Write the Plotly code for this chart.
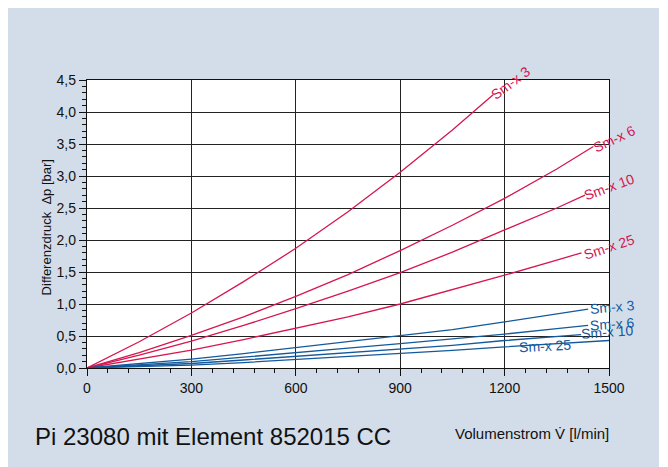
import plotly.graph_objects as go

# ---- data ----
flow_red_sm3 = [0, 150, 300, 450, 600, 750, 900, 1050, 1167]
dp_red_sm3 = [0, 0.41, 0.86, 1.35, 1.87, 2.44, 3.06, 3.72, 4.27]

flow_red_sm6 = [0, 150, 300, 450, 600, 750, 900, 1050, 1200, 1350, 1455]
dp_red_sm6 = [0, 0.242, 0.51, 0.80, 1.12, 1.46, 1.835, 2.23, 2.65, 3.11, 3.46]

flow_red_sm10 = [0, 150, 300, 450, 600, 750, 900, 1050, 1200, 1350, 1431]
dp_red_sm10 = [0, 0.20, 0.42, 0.665, 0.927, 1.20, 1.49, 1.81, 2.157, 2.50, 2.70]

flow_red_sm25 = [0, 150, 300, 450, 600, 750, 900, 1050, 1200, 1350, 1421]
dp_red_sm25 = [0, 0.135, 0.28, 0.445, 0.62, 0.80, 1.0, 1.22, 1.45, 1.685, 1.80]

flow_blue_sm3 = [0, 150, 300, 450, 600, 750, 900, 1050, 1200, 1350, 1440]
dp_blue_sm3 = [0, 0.065, 0.14, 0.225, 0.32, 0.41, 0.50, 0.60, 0.72, 0.84, 0.92]

flow_blue_sm6 = [0, 150, 300, 450, 600, 750, 900, 1050, 1200, 1350, 1440]
dp_blue_sm6 = [0, 0.045, 0.10, 0.17, 0.245, 0.31, 0.38, 0.45, 0.53, 0.615, 0.665]

flow_blue_sm10 = [0, 150, 300, 450, 600, 750, 900, 1050, 1200, 1350, 1420]
dp_blue_sm10 = [0, 0.03, 0.07, 0.125, 0.18, 0.235, 0.29, 0.355, 0.43, 0.49, 0.52]

flow_blue_sm25 = [0, 150, 300, 450, 600, 750, 900, 1050, 1200, 1350, 1500]
dp_blue_sm25 = [0, 0.02, 0.045, 0.085, 0.13, 0.175, 0.22, 0.275, 0.33, 0.38, 0.43]

x_tickvals = [0, 300, 600, 900, 1200, 1500]
x_ticktext = ["0", "300", "600", "900", "1200", "1500"]
y_tickvals = [0, 0.5, 1.0, 1.5, 2.0, 2.5, 3.0, 3.5, 4.0, 4.5]
y_ticktext = ["0,0", "0,5", "1,0", "1,5", "2,0", "2,5", "3,0", "3,5", "4,0", "4,5"]

series_names = ["Sm-x 3", "Sm-x 6", "Sm-x 10", "Sm-x 25"]

RED = "#d5164f"
BLUE = "#13599b"
FONT = "Liberation Sans, Arial, sans-serif"

red_series = [(flow_red_sm3, dp_red_sm3), (flow_red_sm6, dp_red_sm6),
              (flow_red_sm10, dp_red_sm10), (flow_red_sm25, dp_red_sm25)]
blue_series = [(flow_blue_sm3, dp_blue_sm3), (flow_blue_sm6, dp_blue_sm6),
               (flow_blue_sm10, dp_blue_sm10), (flow_blue_sm25, dp_blue_sm25)]

fig = go.Figure()
for name, (fx, fy) in zip(series_names, red_series):
    fig.add_trace(go.Scatter(x=fx, y=fy, mode="lines", name=name,
                             line=dict(color=RED, width=1.3),
                             showlegend=False, cliponaxis=False))
for name, (fx, fy) in zip(series_names, blue_series):
    fig.add_trace(go.Scatter(x=fx, y=fy, mode="lines", name=name,
                             line=dict(color=BLUE, width=1.3),
                             showlegend=False, cliponaxis=False))

# curve labels: (x, y, angle, xshift in px) placements
red_label_pos = [(1216, 4.46, -37, 0), (1500, 3.58, -25, 5), (1497, 2.83, -20, 1), (1497, 1.89, -18, 1)]
blue_label_pos = [(1500, 0.96, -5, 3), (1500, 0.68, -4, 3), (1494, 0.57, -4, 0), (1316, 0.35, -3, 0)]

for name, (lx, ly, ang, sh) in zip(series_names, red_label_pos):
    fig.add_annotation(x=lx, y=ly, text=name, showarrow=False, textangle=ang, xshift=sh,
                       font=dict(color=RED, size=14, family=FONT))
for name, (lx, ly, ang, sh) in zip(series_names, blue_label_pos):
    fig.add_annotation(x=lx, y=ly, text=name, showarrow=False, textangle=ang, xshift=sh,
                       font=dict(color=BLUE, size=14, family=FONT))

fig.add_annotation(xref="paper", yref="paper", x=-0.0958, y=0.733,
                   text="Differenzdruck  Δp [bar]", textangle=-90, showarrow=False,
                   font=dict(size=13, color="#111", family=FONT))
fig.add_annotation(xref="paper", yref="paper", x=-0.1034, y=-0.237,
                   xanchor="left", yanchor="middle",
                   text="Pi 23080 mit Element 852015 CC", showarrow=False,
                   font=dict(size=24, color="#111", family=FONT))
fig.add_annotation(xref="paper", yref="paper", x=1.004, y=-0.227,
                   xanchor="right", yanchor="middle",
                   text="Volumenstrom V\u0307 [l/min]", showarrow=False,
                   font=dict(size=15, color="#111", family=FONT))

axis_common = dict(
    showline=True, linecolor="#111", linewidth=1.3, mirror=True,
    showgrid=True, gridcolor="#222", gridwidth=1.3,
    ticks="outside", ticklen=7, tickcolor="#111", tickwidth=1,
    zeroline=False,
    tickfont=dict(size=14, color="#111", family=FONT),
)

fig.update_xaxes(range=[0, 1500], tickvals=x_tickvals, ticktext=x_ticktext,
                 minor=dict(dtick=60, ticks="outside", ticklen=4, tickcolor="#111", showgrid=False),
                 **axis_common)
fig.update_yaxes(range=[0, 4.5], tickvals=y_tickvals, ticktext=y_ticktext,
                 minor=dict(dtick=0.1, ticks="outside", ticklen=4, tickcolor="#111", showgrid=False),
                 **axis_common)

fig.update_layout(
    width=651, height=459,
    margin=dict(l=79, r=50, t=72, b=98.5, pad=0),
    paper_bgcolor="#d3dde9",
    plot_bgcolor="white",
    font=dict(family=FONT, color="#111"),
)

fig.write_html("out.html")
